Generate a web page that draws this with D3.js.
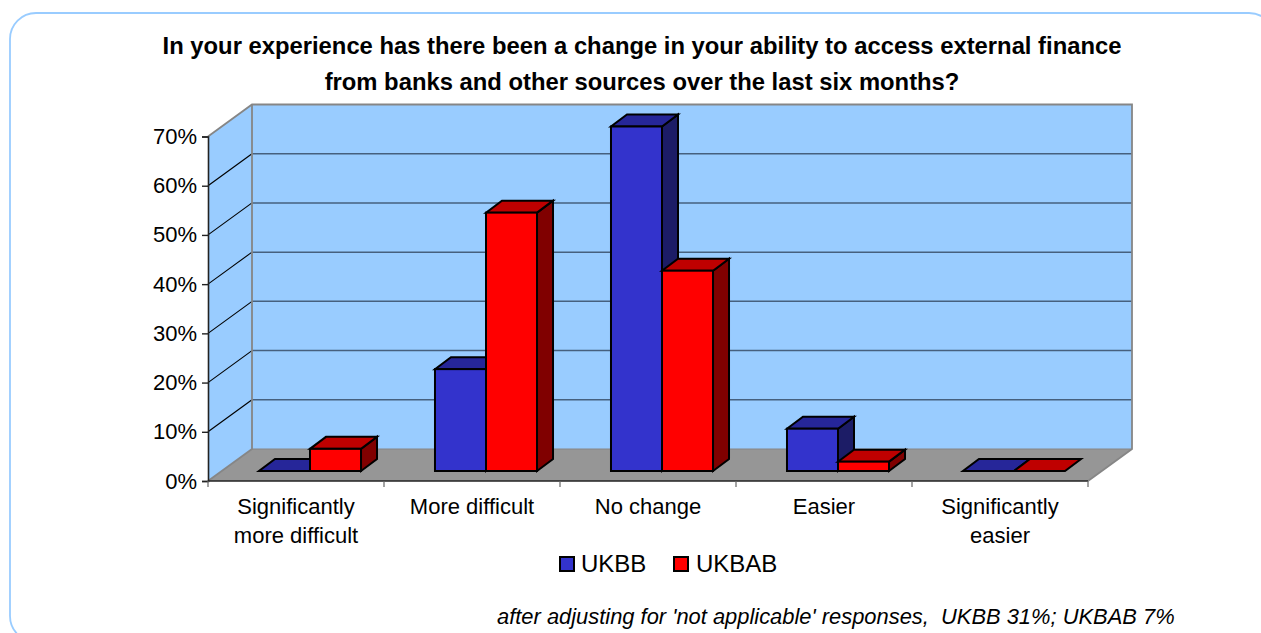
<!DOCTYPE html>
<html><head><meta charset="utf-8">
<script src="https://cdn.jsdelivr.net/npm/d3@7"></script>
<style>html,body{margin:0;padding:0;background:#fff}svg{display:block}text{font-family:"Liberation Sans",Arial,sans-serif;fill:#000}</style>
</head><body><svg id="c" width="1261" height="633"></svg>
<script>
const titleLines = ["In your experience has there been a change in your ability to access external finance","from banks and other sources over the last six months?"];
const categories = ["Significantly more difficult","More difficult","No change","Easier","Significantly easier"];
const categoryLines = [["Significantly","more difficult"],["More difficult"],["No change"],["Easier"],["Significantly","easier"]];
const ukbb = [0,20.7,70,8.6,0];
const ukbab = [4.5,52.5,40.7,1.9,0];
const seriesNames = ["UKBB","UKBAB"];
const yTicks = [0,10,20,30,40,50,60,70];
const footnote = "after adjusting for 'not applicable' responses,  UKBB 31%; UKBAB 7%";

const svg = d3.select("#c");
svg.append("rect").attr("x",10).attr("y",13).attr("width",1265).attr("height",629).attr("rx",26).attr("fill","none").attr("stroke","#99ccff").attr("stroke-width",1.8);

const x = d3.scaleBand().domain(categories).range([208,1088]);
const y = d3.scaleLinear().domain([0,70]).range([481,136.5]);
const depth = {x:44,y:-32};
const barOff = {x:14,y:-10};
const barDepth = {x:16,y:-12};
const inner = d3.scaleBand().domain(seriesNames).range([0,x.bandwidth()]).paddingInner(0).paddingOuter(0.725);

const y0=y(0), yT=y(70), xL=x.range()[0], xR=x.range()[1];
const poly = pts => pts.map(p=>p.join(",")).join(" ");
const g = svg.append("g");
g.append("polygon").attr("points",poly([[xL,y0],[xL+depth.x,y0+depth.y],[xL+depth.x,yT+depth.y],[xL,yT]])).attr("fill","#99ccff");
g.append("polygon").attr("points",poly([[xL+depth.x,y0+depth.y],[xR+depth.x,y0+depth.y],[xR+depth.x,yT+depth.y],[xL+depth.x,yT+depth.y]])).attr("fill","#99ccff");
g.append("polygon").attr("points",poly([[xL,y0],[xR,y0],[xR+depth.x,y0+depth.y],[xL+depth.x,y0+depth.y]])).attr("fill","#969696");
yTicks.filter(t=>t>0&&t<70).forEach(t=>{
  g.append("line").attr("x1",xL).attr("y1",y(t)).attr("x2",xL+depth.x).attr("y2",y(t)+depth.y).attr("stroke","#000").attr("stroke-width",1.1);
  g.append("line").attr("x1",xL+depth.x).attr("y1",y(t)+depth.y).attr("x2",xR+depth.x).attr("y2",y(t)+depth.y).attr("stroke","#46607e").attr("stroke-width",1.5);
});
g.append("polyline").attr("points",poly([[xL,yT],[xL+depth.x,yT+depth.y],[xR+depth.x,yT+depth.y],[xR+depth.x,y0+depth.y],[xR,y0]])).attr("fill","none").attr("stroke","#868686").attr("stroke-width",1.8);
g.append("polyline").attr("points",poly([[xL,y0],[xL+depth.x,y0+depth.y],[xL+depth.x,yT+depth.y]])).attr("fill","none").attr("stroke","#868686").attr("stroke-width",1.8);
g.append("line").attr("x1",xL+depth.x).attr("y1",y0+depth.y).attr("x2",xR+depth.x).attr("y2",y0+depth.y).attr("stroke","#868686").attr("stroke-width",1);

const yAxis = d3.axisLeft(y).tickValues(yTicks).tickFormat(d=>d+"%").tickSize(6).tickPadding(5);
const ya = svg.append("g").attr("transform",`translate(${xL},0)`).call(yAxis);
ya.select(".domain").attr("stroke","#222").attr("stroke-width",1.6);
ya.selectAll("line").attr("stroke","#222").attr("stroke-width",1.4);
ya.selectAll("text").attr("font-size",22).attr("font-family","Liberation Sans");

const xa = svg.append("g").attr("transform",`translate(0,${y0})`).call(d3.axisBottom(x).tickSize(0).tickFormat(""));
xa.select(".domain").attr("stroke","#222").attr("stroke-width",1.6).attr("d",`M${xL},0H${xR}`);
x.domain().concat([null]).forEach(c=>{
  const px = c===null?xR:x(c);
  xa.append("line").attr("x1",px).attr("x2",px).attr("y1",0).attr("y2",6).attr("stroke","#666").attr("stroke-width",1.2);
});
categories.forEach((c,i)=>{
  const t = svg.append("text").attr("text-anchor","middle").attr("font-size",22).attr("y",514);
  categoryLines[i].forEach((l,j)=>t.append("tspan").attr("x",x(c)+x.bandwidth()/2).attr("dy",j?29:0).text(l));
});

const colors = {UKBB:["#3333cc","#262699","#1c1c66"],UKBAB:["#ff0000","#bf0000","#800000"]};
function bar(cat,name,val){
  const c = colors[name];
  const l = x(cat)+inner(name)+barOff.x, r = l+inner.bandwidth();
  const b = y(0)+barOff.y, t = y(val)+barOff.y;
  const dx=barDepth.x, dy=barDepth.y;
  const s = svg.append("g").attr("stroke","#000").attr("stroke-width",2).attr("stroke-linejoin","miter");
  if(val>0) s.append("polygon").attr("points",poly([[r,b],[r+dx,b+dy],[r+dx,t+dy],[r,t]])).attr("fill",c[2]);
  s.append("polygon").attr("points",poly([[l,t],[r,t],[r+dx,t+dy],[l+dx,t+dy]])).attr("fill",c[1]);
  if(val>0) s.append("rect").attr("x",l).attr("y",t).attr("width",r-l).attr("height",b-t).attr("fill",c[0]);
}
categories.forEach((c,i)=>{ bar(c,"UKBB",ukbb[i]); bar(c,"UKBAB",ukbab[i]); });

const tt = svg.append("text").attr("text-anchor","middle").attr("font-size",23.8).attr("font-weight","bold").attr("y",54);
titleLines.forEach((l,j)=>tt.append("tspan").attr("x",642).attr("dy",j?36:0).text(l));

[[560,"#3333cc",581,seriesNames[0]],[674,"#ff0000",696,seriesNames[1]]].forEach(d=>{
  svg.append("rect").attr("x",d[0]).attr("y",557).attr("width",14).attr("height",14).attr("fill",d[1]).attr("stroke","#000").attr("stroke-width",2);
  svg.append("text").attr("x",d[2]).attr("y",572).attr("font-size",24).text(d[3]);
});
svg.append("text").attr("x",497).attr("y",624).attr("font-size",21.9).attr("font-style","italic").style("white-space","pre").text(footnote);
</script></body></html>
